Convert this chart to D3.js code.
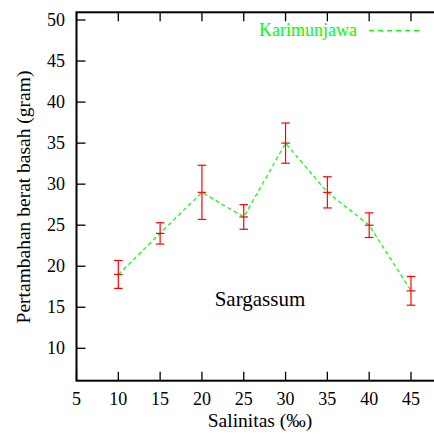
<!DOCTYPE html>
<html><head><meta charset="utf-8">
<script src="https://cdn.jsdelivr.net/npm/d3@7"></script>
<style>body{margin:0;background:#fff}svg{display:block}text{font-family:"Liberation Serif","Times New Roman",serif}</style>
</head><body>
<svg id="c" width="434" height="437"></svg>
<script>
const salinity = [10, 15, 20, 25, 30, 35, 40, 45];
const growth   = [19.0, 24.0, 29.0, 26.0, 35.0, 29.0, 25.0, 17.0];
const errUp    = [1.7, 1.3, 3.3, 1.5, 2.45, 1.9, 1.5, 1.75];
const errDown  = [1.7, 1.3, 3.3, 1.5, 2.45, 1.9, 1.5, 1.75];
const xTicks = [5, 10, 15, 20, 25, 30, 35, 40, 45];
const yTicks = [10, 15, 20, 25, 30, 35, 40, 45, 50];
const seriesName = "Karimunjawa";
const annotation = "Sargassum";
const xTitle = "Salinitas (‰)";
const yTitle = "Pertambahan berat basah (gram)";

const svg = d3.select("#c");
const font = "Liberation Serif";
const x = d3.scaleLinear().domain([5, 50]).range([76.5, 452.8]);
const y = d3.scaleLinear().domain([6.05, 50.94]).range([380.7, 12.3]);
const green = "#00ff00", red = "#ff0000";

// frame
const g = svg.append("g");
g.append("rect").attr("x", x(5)).attr("y", y(50.94)).attr("width", x(50)-x(5)).attr("height", y(6.05)-y(50.94))
  .attr("fill", "none").attr("stroke", "#000").attr("stroke-width", 2);

// ticks inward
const tl = 9;
xTicks.concat([50]).forEach(v => {
  g.append("line").attr("x1", x(v)).attr("x2", x(v)).attr("y1", y(6.05)).attr("y2", y(6.05)-tl).attr("stroke","#000").attr("stroke-width",1.3);
  g.append("line").attr("x1", x(v)).attr("x2", x(v)).attr("y1", y(50.94)).attr("y2", y(50.94)+tl).attr("stroke","#000").attr("stroke-width",1.3);
});
yTicks.forEach(v => {
  g.append("line").attr("x1", x(5)).attr("x2", x(5)+tl).attr("y1", y(v)).attr("y2", y(v)).attr("stroke","#000").attr("stroke-width",1.3);
});
xTicks.forEach(v => {
  g.append("text").attr("x", x(v)).attr("y", 405).attr("text-anchor","middle")
    .style("font-family", font).attr("font-size", 18).text(v);
});
yTicks.forEach(v => {
  g.append("text").attr("x", 65).attr("y", y(v)).attr("dy","0.34em").attr("text-anchor","end")
    .style("font-family", font).attr("font-size", 18).text(v);
});

// titles
svg.append("text").attr("x", 260).attr("y", 427).attr("text-anchor","middle")
  .style("font-family", font).attr("font-size", 19.5).text(xTitle);
svg.append("text").attr("transform", "translate(30,197) rotate(-90)").attr("text-anchor","middle")
  .style("font-family", font).attr("font-size", 19.5).text(yTitle);
svg.append("text").attr("x", 260).attr("y", 305.5).attr("text-anchor","middle")
  .style("font-family", font).attr("font-size", 21).text(annotation);

// data
const data = salinity.map((s, i) => ({s, v: growth[i], lo: growth[i]-errDown[i], hi: growth[i]+errUp[i]}));
const line = d3.line().x(d => x(d.s)).y(d => y(d.v));
svg.append("path").datum(data).attr("d", line).attr("fill","none").attr("stroke", green)
  .attr("stroke-width", 1.2).attr("stroke-dasharray", "4,3");

const cw = 4.3;
const eb = svg.append("g").attr("stroke", red).attr("stroke-width", 1.2);
data.forEach(d => {
  eb.append("line").attr("x1", x(d.s)).attr("x2", x(d.s)).attr("y1", y(d.lo)).attr("y2", y(d.hi));
  [d.lo, d.hi, d.v].forEach(v => eb.append("line").attr("x1", x(d.s)-cw).attr("x2", x(d.s)+cw).attr("y1", y(v)).attr("y2", y(v)));
});

// legend
svg.append("text").attr("x", 357).attr("y", 35.7).attr("text-anchor","end")
  .style("font-family", font).attr("font-size", 18).attr("fill", green).text(seriesName);
svg.append("line").attr("x1", 369).attr("x2", 422).attr("y1", 30.7).attr("y2", 30.7)
  .attr("stroke", green).attr("stroke-width", 1.2).attr("stroke-dasharray", "5,4");
</script>
</body></html>
